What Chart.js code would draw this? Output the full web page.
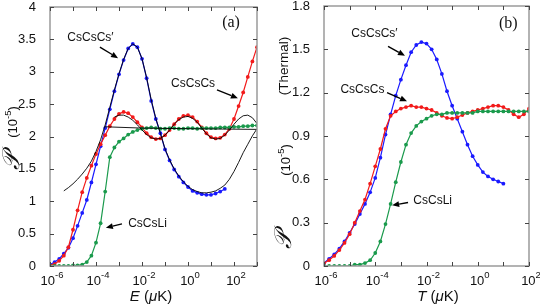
<!DOCTYPE html>
<html>
<head>
<meta charset="utf-8">
<script src="https://cdn.jsdelivr.net/npm/chart.js@4.4.1/dist/chart.umd.min.js"></script>
<style>
  html, body { margin: 0; padding: 0; background: #fff; }
  #wrap { position: relative; width: 540px; height: 308px; }
  canvas { position: absolute; top: 0; }
  #chartA { left: 0; }
  #chartB { left: 270px; }
</style>
</head>
<body>
<div id="wrap">
  <canvas id="chartA" width="270" height="308"></canvas>
  <canvas id="chartB" width="270" height="308"></canvas>
</div>
<script>
// ---- painel (a): P(E), eixo x em log10(E / uK) ----
const logE = [-6.0, -5.8, -5.6, -5.4, -5.2, -5.0, -4.8, -4.6, -4.4, -4.2,
              -4.0, -3.8, -3.6, -3.4, -3.2, -3.0, -2.8, -2.6, -2.4, -2.2,
              -2.0, -1.8, -1.6, -1.4, -1.2, -1.0, -0.8, -0.6, -0.4, -0.2,
               0.0,  0.2,  0.4,  0.6,  0.8,  1.0,  1.2,  1.4,  1.6,  1.8,
               2.0,  2.2,  2.4,  2.6,  2.8,  3.0];

// CsCsCs' (azul), termina em ~1.6
const blueA = [0.02, 0.06, 0.11, 0.19, 0.28, 0.43, 0.62, 0.82, 1.02, 1.29,
               1.57, 1.85, 2.13, 2.42, 2.70, 2.96, 3.18, 3.36, 3.43, 3.38,
               3.20, 2.90, 2.55, 2.27, 2.05, 1.80, 1.63, 1.49, 1.38, 1.29,
               1.22, 1.16, 1.13, 1.11, 1.10, 1.10, 1.12, 1.15, 1.19];
// CsCsCs (vermelho)
const redA = [0.01, 0.03, 0.08, 0.16, 0.29, 0.56, 0.86, 1.14, 1.36, 1.55,
              1.73, 1.88, 2.02, 2.16, 2.27, 2.35, 2.38, 2.36, 2.30, 2.22,
              2.14, 2.05, 1.99, 1.96, 1.97, 2.02, 2.10, 2.19, 2.27, 2.32,
              2.33, 2.30, 2.23, 2.14, 2.05, 1.99, 1.97, 1.98, 2.03, 2.12,
              2.27, 2.47, 2.68, 2.92, 3.16, 3.38];
// CsCsLi (verde)
const greenA = [0.00, 0.00, 0.00, 0.00, 0.00, 0.01, 0.01, 0.02, 0.06, 0.16,
                0.36, 0.66, 1.15, 1.68, 1.83, 1.92, 1.97, 2.03, 2.07, 2.10,
                2.12, 2.13, 2.14, 2.13, 2.12, 2.12, 2.13, 2.13, 2.12, 2.12,
                2.13, 2.13, 2.12, 2.13, 2.13, 2.13, 2.13, 2.14, 2.14, 2.14,
                2.15, 2.15, 2.16, 2.16, 2.17, 2.17];

// curvas pretas (ajustes)
const fitBlueLogE = logE.slice(3);   // de -5.4 a 3
const fitBlueA = [1.16, 1.21, 1.27, 1.34, 1.42, 1.51, 1.62, 1.77, 1.95, 2.18,
                  2.45, 2.72, 2.97, 3.19, 3.36, 3.43, 3.38, 3.20, 2.91, 2.57,
                  2.28, 2.05, 1.81, 1.64, 1.50, 1.39, 1.30, 1.23, 1.18, 1.15,
                  1.13, 1.13, 1.14, 1.16, 1.20, 1.25, 1.34, 1.46, 1.60, 1.75,
                  1.88, 2.01, 2.12];
const fitRedLogE = logE.slice(14);   // de -3.2 a 3
const fitRedA = [2.30, 2.33, 2.33, 2.30, 2.25, 2.18, 2.10, 2.03, 1.98, 1.96,
                 1.97, 2.02, 2.10, 2.19, 2.26, 2.30, 2.31, 2.28, 2.22, 2.13,
                 2.04, 1.98, 1.96, 1.97, 2.02, 2.10, 2.19, 2.27, 2.32, 2.33,
                 2.29, 2.20];
const fitGreenLogE = [-3.6, -2.0, 0.0, 3.0];
const fitGreenA = [2.15, 2.13, 2.12, 2.11];

const yTicksA = [0, 0.5, 1, 1.5, 2, 2.5, 3, 3.5, 4];
const yLabelsA = ['0', '0.5', '1', '1.5', '2', '2.5', '3', '3.5', '4'];
const xTicksA = [-6, -5, -4, -3, -2, -1, 0, 1, 2, 3];
const xLabelExpA = [-6, -4, -2, 0, 2];

// ---- painel (b): P(T) termico, eixo x em log10(T / uK) ----
const logT = [-6.0, -5.8, -5.6, -5.4, -5.2, -5.0, -4.8, -4.6, -4.4, -4.2,
              -4.0, -3.8, -3.6, -3.4, -3.2, -3.0, -2.8, -2.6, -2.4, -2.2,
              -2.0, -1.8, -1.6, -1.4, -1.2, -1.0, -0.8, -0.6, -0.4, -0.2,
               0.0,  0.2,  0.4,  0.6,  0.8,  1.0,  1.2,  1.4,  1.6,  1.8,
               2.0];

const blueB = [0.02, 0.05, 0.08, 0.12, 0.17, 0.23, 0.29, 0.36, 0.43, 0.51,
               0.61, 0.75, 0.91, 1.05, 1.18, 1.29, 1.39, 1.48, 1.53, 1.55,
               1.54, 1.50, 1.43, 1.33, 1.21, 1.11, 1.02, 0.93, 0.84, 0.76,
               0.70, 0.65, 0.62, 0.60, 0.585, 0.57];
const redB = [0.02, 0.04, 0.07, 0.11, 0.16, 0.22, 0.30, 0.38, 0.46, 0.57,
              0.69, 0.81, 0.95, 1.04, 1.07, 1.09, 1.10, 1.11, 1.10, 1.10,
              1.09, 1.08, 1.06, 1.04, 1.025, 1.02, 1.03, 1.045, 1.06, 1.07,
              1.08, 1.09, 1.10, 1.11, 1.11, 1.10, 1.08, 1.05, 1.03, 1.05,
              1.09];
const greenB = [0.00, 0.00, 0.00, 0.00, 0.00, 0.00, 0.01, 0.01, 0.02, 0.04,
                0.09, 0.17, 0.29, 0.43, 0.58, 0.72, 0.84, 0.92, 0.97, 1.00,
                1.02, 1.04, 1.05, 1.05, 1.06, 1.06, 1.06, 1.06, 1.06, 1.06,
                1.07, 1.07, 1.07, 1.07, 1.07, 1.07, 1.07, 1.07, 1.07, 1.07,
                1.07];

const yTicksB = [0, 0.3, 0.6, 0.9, 1.2, 1.5, 1.8];
const yLabelsB = ['0', '0.3', '0.6', '0.9', '1.2', '1.5', '1.8'];
const xTicksB = [-6, -5, -4, -3, -2, -1, 0, 1, 2];
const xLabelExpB = [-6, -4, -2, 0, 2];

// anotacoes (coordenadas nos eixos: [log10 x, y])
const notesA = [
  { text: 'CsCsCs\u2032', at: [-4.24, 3.52], from: [-3.83, 3.38], to: [-3.04, 3.21] },
  { text: 'CsCsCs', at: [0.22, 2.82], from: [1.26, 2.72], to: [2.17, 2.59] },
  { text: 'CsCsLi', at: [-1.76, 0.66], from: [-2.87, 0.65], to: [-3.57, 0.59] }
];
const notesB = [
  { text: 'CsCsCs\u2032', at: [-4.03, 1.61], from: [-3.5, 1.52], to: [-2.84, 1.455] },
  { text: 'CsCsCs', at: [-4.5, 1.22], from: [-3.54, 1.2], to: [-2.76, 1.14] },
  { text: 'CsCsLi', at: [-1.76, 0.45], from: [-2.72, 0.44], to: [-3.34, 0.42] }
];

const BLUE = '#1a1aff', RED = '#f21a1a', GREEN = '#1a9a4c';
const SANS = '"Liberation Sans", Arial, sans-serif';

const pts = (xs, ys) => ys.map((y, i) => ({ x: xs[i], y }));
const series = (data, color) => ({
  data, borderColor: color, backgroundColor: color, borderWidth: 1.2,
  pointRadius: 1.9, pointBorderWidth: 0, pointBackgroundColor: color
});
const fit = data => ({ data, borderColor: '#000', borderWidth: 0.9, pointRadius: 0 });

// texto com partes de fontes diferentes, centrado em x, na linha de base y
function drawRich(ctx, parts, x, y) {
  let w = 0;
  for (const p of parts) { ctx.font = p.font; w += ctx.measureText(p.t).width; }
  let cx = x - w / 2;
  ctx.textAlign = 'left';
  ctx.textBaseline = 'alphabetic';
  for (const p of parts) {
    ctx.font = p.font;
    ctx.fillText(p.t, cx, y + (p.dy || 0));
    cx += ctx.measureText(p.t).width;
  }
}

function drawArrow(ctx, x1, y1, x2, y2) {
  const ang = Math.atan2(y2 - y1, x2 - x1);
  const hl = 7, hw = 3;
  const bx = x2 - hl * Math.cos(ang), by = y2 - hl * Math.sin(ang);
  ctx.beginPath();
  ctx.moveTo(x1, y1);
  ctx.lineTo(bx, by);
  ctx.stroke();
  ctx.beginPath();
  ctx.moveTo(x2, y2);
  ctx.lineTo(bx + hw * Math.sin(ang), by - hw * Math.cos(ang));
  ctx.lineTo(bx - hw * Math.sin(ang), by + hw * Math.cos(ang));
  ctx.closePath();
  ctx.fill();
}

const decoPlugin = {
  id: 'deco',
  afterDraw(chart, args, o) {
    const { ctx, chartArea: a } = chart;
    const x = chart.scales.x, y = chart.scales.y;
    ctx.save();

    // moldura
    ctx.strokeStyle = '#9a9a9a';
    ctx.lineWidth = 1.5;
    ctx.strokeRect(a.left, a.top, a.right - a.left, a.bottom - a.top);

    // marcas para dentro nos quatro lados
    ctx.strokeStyle = '#444';
    ctx.lineWidth = 1;
    ctx.beginPath();
    for (const t of o.xTicks) {
      const px = Math.round(x.getPixelForValue(t)) + 0.5;
      ctx.moveTo(px, a.bottom); ctx.lineTo(px, a.bottom - 4);
      ctx.moveTo(px, a.top); ctx.lineTo(px, a.top + 4);
    }
    for (const t of o.yTicks) {
      const py = Math.round(y.getPixelForValue(t)) + 0.5;
      ctx.moveTo(a.left, py); ctx.lineTo(a.left + 4, py);
      ctx.moveTo(a.right, py); ctx.lineTo(a.right - 4, py);
    }
    ctx.stroke();

    // rotulos 10^n
    ctx.fillStyle = '#111';
    for (const n of o.xLabels) {
      drawRich(ctx, [
        { t: '10', font: '13px ' + SANS },
        { t: String(n), font: '9.5px ' + SANS, dy: -7 }
      ], x.getPixelForValue(n) + 2, 285);
    }

    // titulo do eixo x
    drawRich(ctx, [
      { t: o.xTitle.v, font: 'italic 15px ' + SANS },
      { t: ' (', font: '15px ' + SANS },
      { t: '\u03bc', font: 'italic 15px ' + SANS },
      { t: 'K)', font: '15px ' + SANS }
    ], o.xTitle.x, 301);

    // titulo do eixo y (rodado)
    for (const seg of o.yTitle) {
      ctx.save();
      ctx.translate(seg.x, seg.y);
      ctx.rotate(-Math.PI / 2);
      drawRich(ctx, seg.parts, 0, 0);
      ctx.restore();
    }

    // anotacoes com setas
    ctx.strokeStyle = '#000';
    ctx.fillStyle = '#000';
    ctx.lineWidth = 1.4;
    for (const n of o.notes) {
      drawArrow(ctx, x.getPixelForValue(n.from[0]), y.getPixelForValue(n.from[1]),
                     x.getPixelForValue(n.to[0]), y.getPixelForValue(n.to[1]));
      ctx.font = '12px ' + SANS;
      ctx.textAlign = 'center';
      ctx.textBaseline = 'middle';
      ctx.fillStyle = '#111';
      ctx.fillText(n.text, x.getPixelForValue(n.at[0]), y.getPixelForValue(n.at[1]));
      ctx.fillStyle = '#000';
    }

    // (a) / (b)
    ctx.font = '16px "Liberation Serif", "Times New Roman", serif';
    ctx.textAlign = 'center';
    ctx.textBaseline = 'middle';
    ctx.fillStyle = '#111';
    ctx.fillText(o.panel.text, x.getPixelForValue(o.panel.at[0]), y.getPixelForValue(o.panel.at[1]));

    ctx.restore();
  }
};

const P_FONT = 'italic 24px "DejaVu Serif", "Liberation Serif", serif';
const tenMinusFive = [
  { t: '(10', font: '13px ' + SANS },
  { t: '-5', font: '9.5px ' + SANS, dy: -6 },
  { t: ')', font: '13px ' + SANS }
];

function makeChart(id, cfg) {
  return new Chart(document.getElementById(id), {
    type: 'line',
    data: { datasets: cfg.datasets },
    options: {
      responsive: false,
      animation: false,
      layout: { padding: cfg.padding },
      elements: { line: { tension: 0 } },
      plugins: { legend: { display: false }, tooltip: { enabled: false }, deco: cfg.deco },
      scales: {
        x: {
          type: 'linear', min: cfg.xMin, max: cfg.xMax,
          ticks: { display: false }, grid: { display: false }, border: { display: false },
          afterFit: s => { s.height = 42; s.paddingLeft = 0; s.paddingRight = 0; }
        },
        y: {
          min: 0, max: cfg.yMax,
          afterBuildTicks: s => { s.ticks = cfg.yTicks.map(v => ({ value: v })); },
          ticks: {
            padding: 6, color: '#111', font: { family: SANS, size: 13 },
            callback: v => cfg.yLabels[cfg.yTicks.indexOf(v)]
          },
          grid: { display: false }, border: { display: false },
          afterFit: s => { s.width = cfg.yWidth; s.paddingTop = 0; s.paddingBottom = 0; }
        }
      }
    },
    plugins: [decoPlugin]
  });
}

makeChart('chartA', {
  xMin: -6, xMax: 3, yMax: 4, yWidth: 50,
  padding: { left: 0, right: 13, top: 7, bottom: 0 },
  yTicks: yTicksA, yLabels: yLabelsA,
  datasets: [
    fit(pts(fitBlueLogE, fitBlueA)),
    fit(pts(fitRedLogE, fitRedA)),
    fit(pts(fitGreenLogE, fitGreenA)),
    series(pts(logE, greenA), GREEN),
    series(pts(logE, redA), RED),
    series(pts(logE, blueA), BLUE)
  ],
  deco: {
    xTicks: xTicksA, yTicks: yTicksA, xLabels: xLabelExpA,
    xTitle: { v: 'E', x: 151 },
    yTitle: [
      { x: 19, y: 161, parts: [{ t: '\u{1D4AB}', font: P_FONT }] },
      { x: 17, y: 122, parts: tenMinusFive }
    ],
    notes: notesA,
    panel: { text: '(a)', at: [1.87, 3.75] }
  }
});

makeChart('chartB', {
  xMin: -6, xMax: 2, yMax: 1.8, yWidth: 54,
  padding: { left: 0, right: 11, top: 6, bottom: 0 },
  yTicks: yTicksB, yLabels: yLabelsB,
  datasets: [
    series(pts(logT, greenB), GREEN),
    series(pts(logT, redB), RED),
    series(pts(logT, blueB), BLUE)
  ],
  deco: {
    xTicks: xTicksB, yTicks: yTicksB, xLabels: xLabelExpB,
    xTitle: { v: 'T', x: 168 },
    yTitle: [
      { x: 21, y: 240, parts: [{ t: '\u{1D4AB}', font: P_FONT }] },
      { x: 20, y: 160, parts: tenMinusFive },
      { x: 18, y: 66, parts: [{ t: '(Thermal)', font: '13.5px ' + SANS }] }
    ],
    notes: notesB,
    panel: { text: '(b)', at: [1.19, 1.68] }
  }
});
</script>
</body>
</html>
